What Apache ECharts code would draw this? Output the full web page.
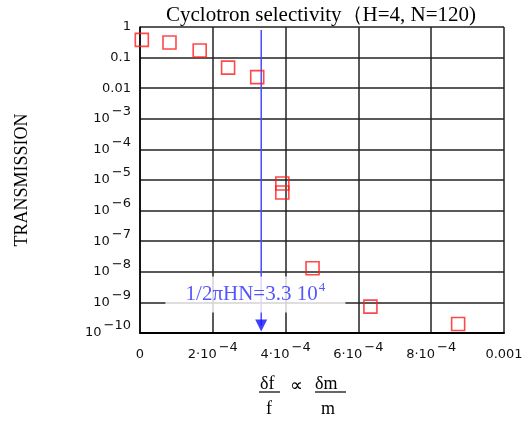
<!DOCTYPE html>
<html>
<head>
<meta charset="utf-8">
<script src="https://cdn.jsdelivr.net/npm/echarts@6/dist/echarts.min.js"></script>
<style>html,body{margin:0;padding:0;background:#fff;}#c{width:528px;height:424px;}</style>
</head>
<body>
<div id="c"></div>
<script>
// ---- data ----
const xValues = [0.000005, 0.000081, 0.000164, 0.000242, 0.000322, 0.000391, 0.000391, 0.000474, 0.000633, 0.000874];
const transmission = [0.38, 0.31, 0.17, 0.047, 0.023, 7.7e-6, 3.9e-6, 1.3e-8, 7.3e-10, 1.96e-10];
const cutoffX = [3.33e-4];
const cutoffLineY = [0.8, 1.76e-10];
const annotationPos = [3.17e-4, 1.8e-9];
const xTickLabels = ['0', '2·10|−4', '4·10|−4', '6·10|−4', '8·10|−4', '0.001'];
const yTickLabels = ['1', '0.1', '0.01', '10|−3', '10|−4', '10|−5', '10|−6', '10|−7', '10|−8', '10|−9', '10|−10'];
const titleText = 'Cyclotron selectivity（H=4, N=120)';
const yName = 'TRANSMISSION';
const annotationText = '1/2πHN=3.3 10|4';

function rich(lbl) {
  const p = lbl.split('|');
  return p.length === 1 ? '{b|' + p[0] + '}' : '{b|' + p[0] + '}{s|' + p[1] + '}';
}
const richStyles = {
  b: { fontSize: 13, fontFamily: 'DejaVu Sans', color: '#111', lineHeight: 28 },
  s: { fontSize: 13, fontFamily: 'DejaVu Sans', color: '#111', padding: [0, 0, 14, 2] }
};

const chart = echarts.init(document.getElementById('c'));
const option = {
  animation: false,
  title: {
    text: titleText, left: 161, top: 0,
    textStyle: { fontFamily: 'Liberation Serif', fontWeight: 'normal', fontSize: 21, color: '#000' }
  },
  grid: { left: 140, right: 24, top: 27, bottom: 91 },
  xAxis: {
    type: 'value', min: 0, max: 0.001, interval: 0.0002,
    axisLine: { show: true, lineStyle: { color: '#000', width: 2 } },
    axisTick: { show: false },
    splitLine: { show: true, lineStyle: { color: '#222', width: 1.5 } },
    axisLabel: {
      margin: 8,
      formatter: function (v) { return rich(xTickLabels[Math.round(v / 0.0002)]); },
      rich: richStyles
    }
  },
  yAxis: {
    type: 'log', logBase: 10, min: 1e-10, max: 1, interval: 1,
    name: yName, nameLocation: 'middle', nameGap: 109, nameRotate: 90,
    nameTextStyle: { fontFamily: 'Liberation Serif', fontSize: 18, color: '#000' },
    axisLine: { show: true, lineStyle: { color: '#000', width: 1.5 } },
    axisTick: { show: false },
    splitLine: { show: true, lineStyle: { color: '#222', width: 1.5 } },
    axisLabel: {
      margin: 9,
      formatter: function (v) { return rich(yTickLabels[-Math.round(Math.log10(v))]); },
      rich: richStyles
    }
  },
  graphic: [
    { type: 'text', left: 260, top: 375, style: { text: 'δf', font: '18px "Liberation Serif"', fill: '#000' } },
    { type: 'line', shape: { x1: 259, y1: 392, x2: 280, y2: 392 }, style: { stroke: '#000', lineWidth: 1.2 } },
    { type: 'text', left: 266, top: 400, style: { text: 'f', font: '18px "Liberation Serif"', fill: '#000' } },
    { type: 'text', left: 290, top: 377, style: { text: '∝', font: '18px "Liberation Serif"', fill: '#000' } },
    { type: 'text', left: 315, top: 375, style: { text: 'δm', font: '18px "Liberation Serif"', fill: '#000' } },
    { type: 'line', shape: { x1: 315, y1: 392, x2: 346, y2: 392 }, style: { stroke: '#000', lineWidth: 1.2 } },
    { type: 'text', left: 321, top: 400, style: { text: 'm', font: '18px "Liberation Serif"', fill: '#000' } }
  ],
  series: [
    {
      type: 'line', z: 3, silent: true, symbol: 'none',
      data: [[cutoffX[0], cutoffLineY[0]], [cutoffX[0], cutoffLineY[1]]],
      lineStyle: { color: '#4a4aff', width: 1.5 }
    },
    {
      type: 'scatter', z: 4, silent: true,
      symbol: 'triangle', symbolRotate: 180, symbolSize: [12, 12],
      data: [[cutoffX[0], cutoffLineY[1]]],
      itemStyle: { color: '#1010ff' }
    },
    {
      type: 'scatter', z: 6, silent: true,
      data: xValues.map((x, i) => [x, transmission[i]]),
      symbol: 'rect', symbolSize: 13,
      itemStyle: { color: 'rgba(255,255,255,0)', borderColor: '#ff1a1a', borderWidth: 1.6 }
    },
    {
      type: 'scatter', z: 8, silent: true,
      data: [annotationPos],
      symbol: 'rect', symbolSize: [180, 36],
      itemStyle: { color: '#fff' },
      label: {
        show: true, position: 'inside',
        formatter: function () { const p = annotationText.split('|'); return '{t|' + p[0] + '}{u|' + p[1] + '}'; },
        rich: {
          t: { fontFamily: 'Liberation Serif', fontSize: 21, color: '#2a2aff' },
          u: { fontFamily: 'Liberation Serif', fontSize: 13, color: '#2a2aff', padding: [0, 0, 14, 1] }
        }
      }
    }
  ]
};
chart.setOption(option);
</script>
</body>
</html>
